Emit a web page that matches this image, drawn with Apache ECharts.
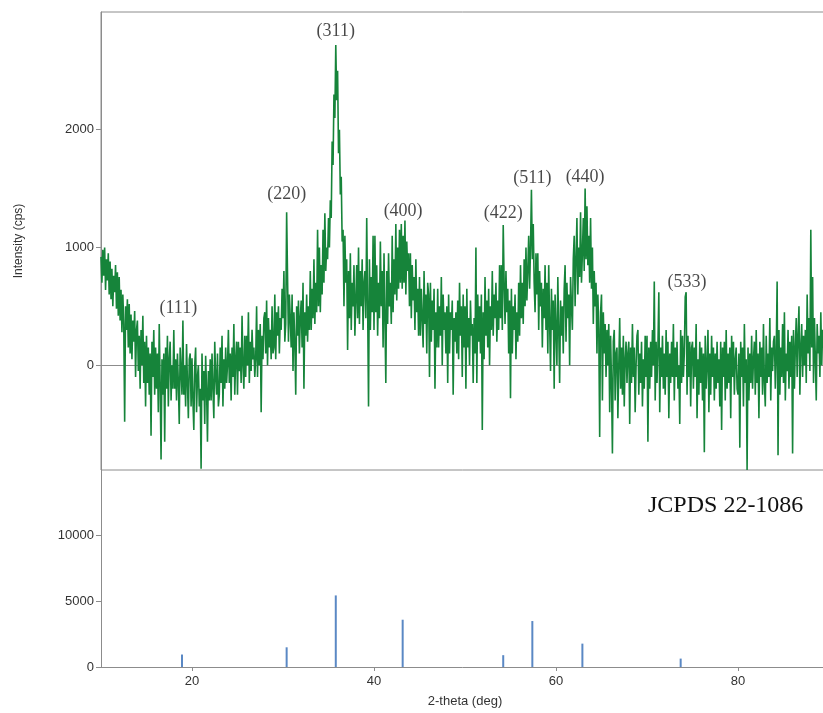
<!DOCTYPE html>
<html>
<head>
<meta charset="utf-8">
<title>XRD</title>
<script src="https://cdn.jsdelivr.net/npm/echarts@6/dist/echarts.min.js"></script>
<style>
  html, body { margin: 0; padding: 0; background: #fff; }
  #chart { width: 823px; height: 713px; }
</style>
</head>
<body>
<div id="chart"></div>
<script>
// measured pattern: 2-theta from 10 to 90 deg, one reading every 0.1 deg (one row per degree)
var scanStart = 10;
var scanStep = 0.1;
var intensity = [
  920, 700, 980, 760, 1000, 640, 900, 720, 950, 600,
  880, 560, 820, 500, 760, 620, 850, 480, 790, 420,
  750, 380, 640, 280, 600, 350, -480, 500, 300, 560,
  150, 520, 100, 430, 50, 380, 200, 460, -100, 300,
  380, -50, 250, -200, 300, 0, 420, -150, 200, -350,
  250, -150, 150, -250, 100, -600, 200, -100, 300, -250,
  150, -200, 100, -400, 350, -150, -800, 50, -250, 100,
  -650, 150, -200, 250, -350, 50, 200, -300, 0, -200,
  300, -200, 50, -300, 100, -150, -500, 150, -50, -250,
  380, -250, 0, -350, 180, -150, -450, 50, 100, -350,
  60, -300, -550, 0, 150, -400, -100, 0, -350, -200,
  -880, 100, -300, -50, -500, 80, -200, -650, -50, -300,
  50, -300, 100, -200, -450, 200, -100, -250, 100, -350,
  -250, 150, -150, 250, -350, 50, -200, 150, -150, 0,
  300, -150, 100, -300, 150, -100, 350, -250, 50, 200,
  -250, 200, -50, 150, -150, 420, 0, -200, 250, -100,
  250, 0, 450, -150, 200, -50, 300, 50, 150, -100,
  50, 500, -100, 300, 0, 350, -400, 250, 50, 400,
  450, 100, 550, 0, 400, 150, 300, 50, 500, 100,
  150, 600, 50, 450, 250, 500, 100, 400, 300, 650,
  400, 800, 200, 350, 1300, 750, 200, 600, 400, 150,
  600, -50, 450, 200, -250, 500, 250, 550, 100, 400,
  550, 150, 700, -200, 450, 250, 600, 200, 500, 300,
  800, 300, 650, 400, 900, 350, 700, 450, 1150, 500,
  1000, 450, 850, 600, 1150, 700, 1290, 800, 1000, 900,
  1250, 1000, 1400, 1250, 1900, 1700, 2300, 2100, 2720, 2250,
  2500, 1800, 2000, 1450, 1600, 1050, 1150, 500, 1100, 700,
  900, 130, 800, 400, 950, 300, 700, 500, 850, 250,
  250, 850, 400, 1000, 350, 800, 500, 900, 300, 700,
  800, 400, 1250, 500, -350, 900, 300, 750, 450, 1100,
  300, 1100, 450, 850, 250, 700, 400, 1050, 500, 800,
  150, 950, 400, -150, 800, 350, 950, 500, 700, 350,
  1100, 450, 900, 600, 1200, 550, 1000, 650, 1150, 700,
  1200, 650, 1100, 700, 1230, 600, 1050, 800, 950, 500,
  950, 400, 850, 550, 750, 300, 900, 450, 650, 250,
  750, 250, 650, 400, 150, 800, 350, 600, 100, 700,
  600, -100, 700, 200, 550, 300, 650, -200, 450, 150,
  650, 150, 500, 250, 750, 0, 600, 300, 450, 100,
  500, -150, 600, 100, 450, 300, 550, -250, 400, 200,
  450, 100, 550, 50, 700, 250, 500, -100, 600, 150,
  500, -200, 650, 150, 400, 0, 550, 250, 350, -150,
  400, 100, 1000, -150, 600, 200, 500, 100, 600, -550,
  450, 50, 750, 250, 550, 150, 650, 0, 500, 300,
  800, 250, 600, 400, 700, 200, 550, 300, 850, 400,
  850, 300, 1190, 700, 350, 800, 450, 650, 100, 550,
  -280, 650, 100, 500, 300, 600, 50, 450, 200, 700,
  250, 850, 400, 700, 350, 900, 500, 1000, 550, 800,
  1100, 650, 1000, 1490, 900, 1200, 700, 450, 950, 600,
  950, 300, 800, 500, 700, 150, 650, 400, 850, 300,
  700, 100, 850, 350, -50, 650, 300, 550, -200, 600,
  600, 0, 750, 300, -150, 550, 250, 500, 100, 650,
  850, 200, 700, 400, 600, 0, 750, 500, 300, 900,
  1100, 500, 900, 1250, 600, 1000, 750, 1300, 700, 950,
  1250, 800, 1500, 900, 1350, 850, 1100, 700, 1250, 650,
  1000, 350, 800, 500, 700, 100, 600, 300, -610, 450,
  600, -300, 450, 100, 350, -100, 300, 0, 350, -400,
  250, -150, -750, 200, 300, -300, 100, 150, -450, 0,
  400, -200, 150, -250, 250, -350, 50, 200, -150, 100,
  200, -500, 150, -150, 350, -100, 150, -400, 0, 250,
  300, -250, 100, -150, 200, -350, 50, -200, 250, -100,
  250, -650, 150, -200, 200, -100, 300, 0, 710, -300,
  200, -150, 150, 620, -400, 150, -100, 250, -200, 100,
  -250, 300, -100, 200, -450, 100, -150, 200, -100, 350,
  -300, 150, -100, 200, -200, 0, -500, 300, -150, 250,
  -100, 100, 580, 620, -250, 250, -100, 200, -350, 150,
  200, -200, 150, -100, 350, -450, 50, -250, 200, -150,
  150, -300, 100, -740, 250, -200, 0, 300, -400, 100,
  -250, 250, -100, 150, -300, 100, -200, 200, -150, 50,
  -350, 200, -550, 150, -100, 200, -300, 300, -200, 100,
  -150, 150, -450, 250, -100, 200, -250, 50, 150, -200,
  -250, 100, -700, 200, -100, 150, -350, 350, -150, 50,
  -890, 150, -300, 100, -150, 250, -200, 50, 200, -250,
  300, -150, 100, -450, 200, -100, 150, -250, 350, -150,
  -350, 250, -150, 100, -100, 400, -300, 150, -50, 200,
  250, -200, 100, 710, -765, 300, -250, 150, -100, 350,
  -150, 450, -300, 100, -50, 300, -200, 200, -100, 250,
  -750, 300, -200, 150, 400, -100, 250, 500, -250, 150,
  350, -100, 250, 0, 300, -150, 600, 100, 400, -50,
  1150, 150, 750, -150, 400, 50, -300, 350, 100, 250,
  -100, 450, 0, 300, 150, 400, -100, 250, 50, 350,
  100
];

// reflection labels
var millerNames = ['(111)', '(220)', '(311)', '(400)', '(422)', '(511)', '(440)', '(533)'];
var millerX = [18.5, 30.4, 35.8, 43.2, 54.2, 57.4, 63.2, 74.4];
var millerY = [480, 1450, 2840, 1310, 1290, 1590, 1600, 706];

// JCPDS 22-1086 reference lines
var refTheta = [18.9, 30.4, 35.8, 43.15, 54.2, 57.4, 62.9, 73.7];
var refIntensity = [950, 1500, 5450, 3600, 900, 3500, 1780, 640];

var topTicks = [0, 1000, 2000];
var bottomTicks = [0, 5000, 10000];
var xTicks = [20, 40, 60, 80];

var pattern = intensity.map(function (v, i) {
  return [scanStart + i * scanStep, v];
});
var labelPoints = millerNames.map(function (n, i) {
  return { name: n, value: [millerX[i], millerY[i]] };
});
var refBars = refTheta.map(function (t, i) {
  return [t, refIntensity[i]];
});

var axisGrey = '#8c8c8c';
var plainNumber = function (v) { return String(v); };
var tickFont = { color: '#333', fontSize: 13, fontFamily: 'Liberation Sans, Arial, sans-serif', formatter: plainNumber };

var chart = echarts.init(document.getElementById('chart'));
var option = {
  animation: false,
  backgroundColor: '#fff',
  grid: [
    // the plot runs to 90 deg, just past the right edge of the picture
    { left: 101, width: 728, top: 12, height: 458, outerBoundsMode: 'none', show: true, borderColor: axisGrey, borderWidth: 1 },
    { left: 101, width: 728, top: 470, height: 197, outerBoundsMode: 'none' }
  ],
  xAxis: [
    {
      type: 'value', gridIndex: 0, min: 10, max: 90,
      axisLine: { show: true, lineStyle: { color: axisGrey } },
      axisTick: { show: false }, axisLabel: { show: false }, splitLine: { show: false }
    },
    {
      type: 'value', gridIndex: 1, min: 10, max: 90,
      name: '2-theta (deg)', nameLocation: 'middle', nameGap: 28,
      nameTextStyle: { color: '#333', fontSize: 13, fontFamily: 'Liberation Sans, Arial, sans-serif' },
      axisLine: { show: true, lineStyle: { color: axisGrey } },
      axisTick: { show: true, length: 4, customValues: xTicks, lineStyle: { color: axisGrey } },
      axisLabel: Object.assign({ margin: 8, customValues: xTicks }, tickFont),
      splitLine: { show: false }
    }
  ],
  yAxis: [
    {
      type: 'value', gridIndex: 0, min: -890, max: 3000,
      name: 'Intensity (cps)', nameLocation: 'middle', nameGap: 76, nameRotate: 90,
      nameTextStyle: { color: '#333', fontSize: 12, fontFamily: 'Liberation Sans, Arial, sans-serif' },
      axisLine: { show: true, lineStyle: { color: axisGrey } },
      axisTick: { show: true, length: 5, customValues: topTicks, lineStyle: { color: axisGrey } },
      axisLabel: Object.assign({ margin: 7, customValues: topTicks }, tickFont),
      splitLine: { show: false }
    },
    {
      type: 'value', gridIndex: 1, min: 0, max: 15000,
      axisLine: { show: true, lineStyle: { color: axisGrey } },
      axisTick: { show: true, length: 5, customValues: bottomTicks, lineStyle: { color: axisGrey } },
      axisLabel: Object.assign({ margin: 7, customValues: bottomTicks }, tickFont),
      splitLine: { show: false }
    }
  ],
  graphic: [
    {
      type: 'text', left: 648, top: 494,
      style: { text: 'JCPDS 22-1086', fill: '#111', font: '24px "Liberation Serif", "Times New Roman", serif' }
    }
  ],
  series: [
    {
      type: 'line', xAxisIndex: 0, yAxisIndex: 0,
      data: pattern, showSymbol: false, sampling: null,
      lineStyle: { color: '#16843a', width: 1.6 },
      z: 2
    },
    {
      type: 'scatter', xAxisIndex: 0, yAxisIndex: 0,
      data: labelPoints, symbolSize: 0, silent: true,
      label: {
        show: true, position: 'inside', formatter: '{b}',
        color: '#1a1a1a', fontSize: 18, fontFamily: 'Liberation Serif, Times New Roman, serif'
      },
      z: 5
    },
    {
      type: 'bar', xAxisIndex: 1, yAxisIndex: 1,
      data: refBars, barWidth: 2,
      itemStyle: { color: '#5a88c4' }
    }
  ]
};
chart.setOption(option);
</script>
</body>
</html>
